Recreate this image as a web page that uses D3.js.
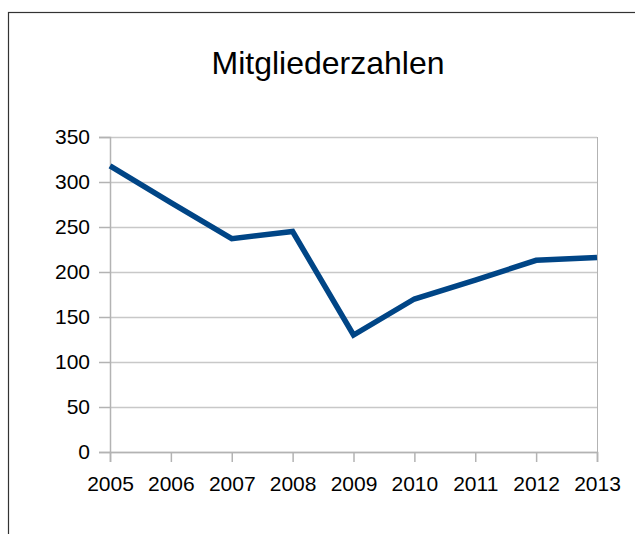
<!DOCTYPE html>
<html>
<head>
<meta charset="utf-8">
<script src="https://d3js.org/d3.v7.min.js"></script>
<style>
body { margin:0; background:#fff; }
text { font-family: "Liberation Sans", Arial, sans-serif; fill:#000; }
</style>
</head>
<body>
<div id="chart"></div>
<script>
//chart data
var years = ["2005","2006","2007","2008","2009","2010","2011","2012","2013"];
var members = [318, 277, 237, 245, 130, 170, 191, 213, 216];
var yTicks = [0, 50, 100, 150, 200, 250, 300, 350];
var chartTitle = "Mitgliederzahlen";

//size and plot area
var width = 635;
var height = 534;
var plotLeft = 110;
var plotRight = 597;
var plotTop = 137;
var plotBottom = 452;

var svg = d3.select("#chart").append("svg")
.attr("width", width)
.attr("height", height);

//outer frame, runs off the right and bottom edge
svg.append("rect")
.attr("x", 8.5)
.attr("y", 12.5)
.attr("width", 700)
.attr("height", 600)
.style("fill", "#fff")
.style("stroke", "#333")
.style("stroke-width", 1.2);

var x = d3.scalePoint()
.domain(years)
.range([plotLeft, plotRight]);

var y = d3.scaleLinear()
.domain([0, 350])
.range([plotBottom, plotTop]);

//horizontal grid lines
svg.append("g")
.selectAll("line")
.data(yTicks)
.enter().append("line")
.attr("x1", plotLeft)
.attr("x2", plotRight)
.attr("y1", function(d){ return Math.round(y(d)) + 0.5; })
.attr("y2", function(d){ return Math.round(y(d)) + 0.5; })
.style("stroke", "#c8c8c8")
.style("stroke-width", 1.5);

//right edge of plot
svg.append("line")
.attr("x1", plotRight + 0.5)
.attr("x2", plotRight + 0.5)
.attr("y1", plotTop)
.attr("y2", plotBottom)
.style("stroke", "#b3b3b3")
.style("stroke-width", 1);

//y axis
var yAxis = svg.append("g")
.attr("transform", "translate(" + plotLeft + ",0)")
.call(d3.axisLeft(y).tickValues(yTicks).tickSize(11).tickPadding(9));

//x axis
var xAxis = svg.append("g")
.attr("transform", "translate(0," + plotBottom + ")")
.call(d3.axisBottom(x).tickSize(10).tickPadding(14));

[yAxis, xAxis].forEach(function(a){
	a.selectAll("path, line")
	.style("stroke", "#b3b3b3")
	.style("stroke-width", 1.5);
	a.selectAll("text")
	.style("font-size", "21px")
	.style("font-family", "Liberation Sans, Arial, sans-serif")
	.style("fill", "#000");
});

//the data line
var line = d3.line()
.x(function(d, i){ return x(years[i]); })
.y(function(d){ return y(d); });

svg.append("path")
.datum(members)
.attr("d", line)
.style("fill", "none")
.style("stroke", "#004586")
.style("stroke-width", 5.5)
.style("stroke-linejoin", "miter");

//title
svg.append("text")
.attr("x", 328)
.attr("y", 74)
.attr("text-anchor", "middle")
.style("font-size", "32px")
.text(chartTitle);
</script>
</body>
</html>
